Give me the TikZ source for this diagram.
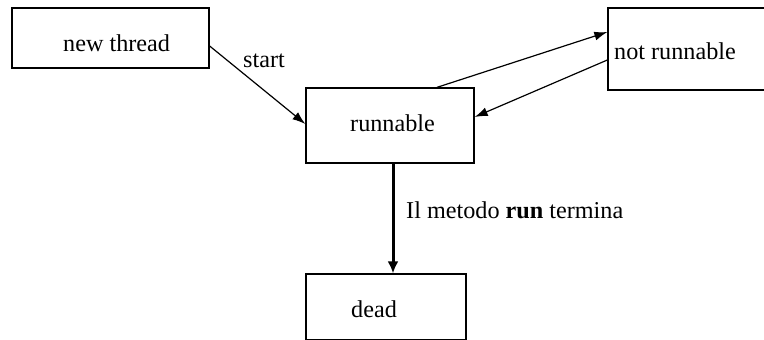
\documentclass[tikz,border=0pt]{standalone}
\usepackage{fontspec}
\setmainfont{Liberation Serif}
\usetikzlibrary{arrows.meta}
\begin{document}
\begin{tikzpicture}[x=1pt,y=-1pt,
  box/.style={draw, line width=1.3pt, inner sep=0pt, rectangle},
  lbl/.style={anchor=base west, inner sep=0pt, font=\fontsize{24.2}{29}\selectfont},
  conn/.style={line width=1.2pt, -{Latex[length=13pt,width=9pt]}},
  thickconn/.style={line width=3pt, -{Latex[length=12pt,width=11pt]}}]
\clip (0,0) rectangle (764,340);
\fill[white] (0,0) rectangle (764,340);
% boxes
\node[box, minimum width=197pt, minimum height=60pt] (nt) at (110.5,38) {};
\node[box, minimum width=168pt, minimum height=75pt] (rn) at (390,125.5) {};
\node[box, minimum width=162pt, minimum height=82pt] (nr) at (689,49) {};
\node[box, minimum width=160pt, minimum height=66pt] (dd) at (386,307) {};
% texts
\node[lbl] (tnt) at (63,52) {new thread};
\node[lbl] (trn) at (350,131) {runnable};
\node[lbl] (tnr) at (614,59) {not runnable};
\node[lbl] (tdd) at (351,317) {dead};
\node[lbl] (tst) at (243,67) {start};
\node[lbl] (trun) at (406,218) {Il metodo \textbf{run} termina};
% connectors
\draw[conn] ([yshift=-8pt]nt.east) -- ([yshift=1.5pt]rn.west);
\draw[conn] ([xshift=47pt]rn.north) -- ([yshift=17pt]nr.west);
\draw[conn] ([yshift=-11pt]nr.west) -- ([yshift=8.5pt]rn.east);
\draw[thickconn] ([xshift=3pt]rn.south) -- ([xshift=7pt]dd.north);
\end{tikzpicture}
\end{document}
